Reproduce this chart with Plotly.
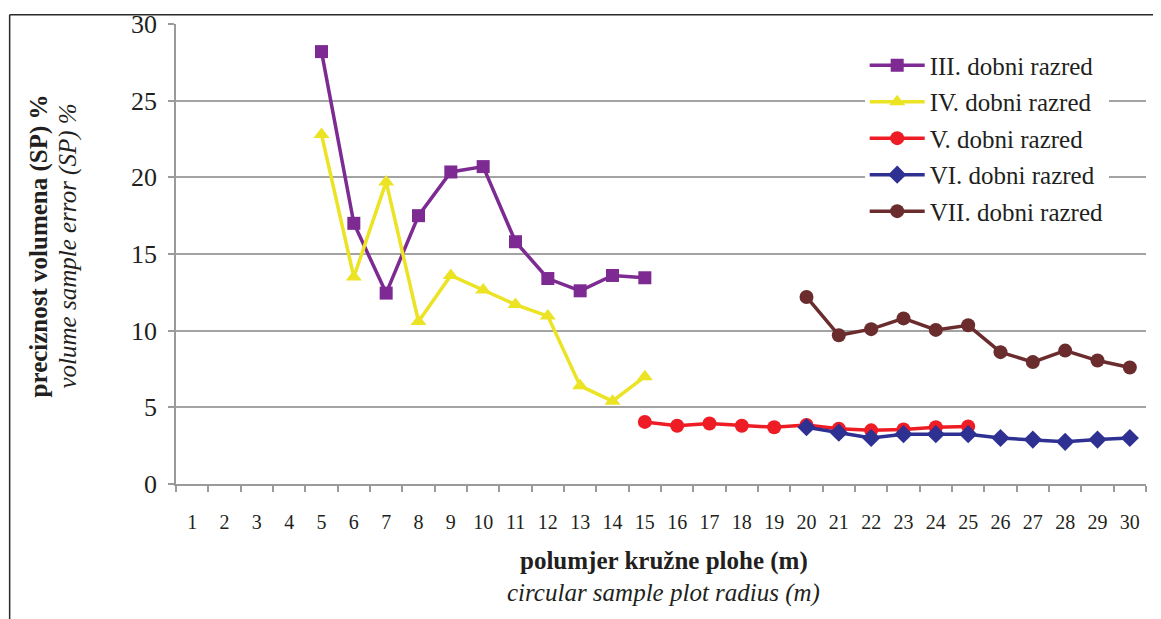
import plotly.graph_objects as go

radius = list(range(1, 31))

x_iii = [5, 6, 7, 8, 9, 10, 11, 12, 13, 14, 15]
y_iii = [28.2, 17.0, 12.45, 17.5, 20.35, 20.7, 15.8, 13.4, 12.6, 13.6, 13.45]

x_iv = [5, 6, 7, 8, 9, 10, 11, 12, 13, 14, 15]
y_iv = [22.8, 13.5, 19.7, 10.6, 13.6, 12.65, 11.7, 10.95, 6.4, 5.4, 7.0]

x_v = [15, 16, 17, 18, 19, 20, 21, 22, 23, 24, 25]
y_v = [4.05, 3.8, 3.95, 3.8, 3.7, 3.85, 3.6, 3.5, 3.55, 3.7, 3.75]

x_vi = [20, 21, 22, 23, 24, 25, 26, 27, 28, 29, 30]
y_vi = [3.7, 3.35, 3.0, 3.25, 3.25, 3.25, 3.0, 2.9, 2.75, 2.9, 3.0]

x_vii = [20, 21, 22, 23, 24, 25, 26, 27, 28, 29, 30]
y_vii = [12.2, 9.7, 10.1, 10.8, 10.05, 10.35, 8.6, 7.95, 8.7, 8.05, 7.6]

names = ["III. dobni razred", "IV. dobni razred", "V. dobni razred",
         "VI. dobni razred", "VII. dobni razred"]
colors = ["#7d2a93", "#ebe324", "#ee1c24", "#2e3192", "#6a2c2c"]
symbols = ["square", "triangle-up", "circle", "diamond", "circle"]
sizes = [13, 14, 14, 14, 14]

serif = "Liberation Serif"
ink = "#231f20"

fig = go.Figure()
series = [(x_iii, y_iii), (x_iv, y_iv), (x_v, y_v), (x_vi, y_vi), (x_vii, y_vii)]
for i, (xs, ys) in enumerate(series):
    fig.add_trace(go.Scatter(
        x=xs, y=ys, mode="lines+markers", name=names[i],
        legendgroup=f"g{i}",
        line=dict(color=colors[i], width=3.5),
        marker=dict(symbol=symbols[i], size=sizes[i], color=colors[i]),
    ))

fig.update_layout(
    width=1153, height=611,
    margin=dict(l=168, r=15, t=16, b=135, autoexpand=False),
    paper_bgcolor="white", plot_bgcolor="white",
    font=dict(family=serif, color=ink),
    showlegend=True,
    legend=dict(
        x=0.71, y=0.96, xanchor="left", yanchor="top",
        bgcolor="white", borderwidth=0,
        font=dict(family=serif, size=25, color=ink),
        traceorder="grouped", tracegroupgap=1, itemwidth=55,
    ),
    xaxis=dict(
        range=[0.5, 30.5], tickmode="array", tickvals=radius,
        ticktext=[str(r) for r in radius], automargin=False,
        ticks="", showgrid=False, zeroline=False,
        showline=True, linecolor="#9a9a9a", linewidth=1.5,
        tickfont=dict(family=serif, size=20, color=ink),
        ticklabelstandoff=19,
        minor=dict(tickmode="linear", tick0=0.5, dtick=1, ticks="outside",
                   ticklen=6, tickcolor="#9a9a9a", tickwidth=1.5, showgrid=False),
    ),
    yaxis=dict(
        range=[0, 30], tickmode="linear", tick0=0, dtick=5, automargin=False,
        ticks="outside", ticklen=6, tickcolor="#9a9a9a", tickwidth=1.5,
        showgrid=True, gridcolor="#a3a3a3", gridwidth=1.5,
        zeroline=False, showline=True, linecolor="#9a9a9a", linewidth=1.5,
        tickfont=dict(family=serif, size=26, color=ink),
        ticklabelstandoff=6,
    ),
    annotations=[
        dict(text="<b>preciznost volumena (SP) %</b>", xref="paper", yref="paper",
             x=-0.141, y=0.517, textangle=-90, showarrow=False,
             xanchor="center", yanchor="middle",
             font=dict(family=serif, size=25, color=ink)),
        dict(text="<i>volume sample error (SP) %</i>", xref="paper", yref="paper",
             x=-0.111, y=0.517, textangle=-90, showarrow=False,
             xanchor="center", yanchor="middle",
             font=dict(family=serif, size=25, color=ink)),
        dict(text="<b>polumjer kružne plohe (m)</b>", xref="paper", yref="paper",
             x=0.503, y=-0.168, showarrow=False,
             xanchor="center", yanchor="middle",
             font=dict(family=serif, size=25, color=ink)),
        dict(text="<i>circular sample plot radius (m)</i>", xref="paper", yref="paper",
             x=0.503, y=-0.237, showarrow=False,
             xanchor="center", yanchor="middle",
             font=dict(family=serif, size=25, color=ink)),
    ],
    shapes=[
        dict(type="line", xref="paper", yref="paper", x0=-0.1715, x1=-0.1715,
             y0=1.02, y1=-0.30, line=dict(color="#2a2a2a", width=1.5)),
        dict(type="line", xref="paper", yref="paper", x0=-0.1715, x1=1.012,
             y0=1.02, y1=1.02, line=dict(color="#2a2a2a", width=1.5)),
    ],
)

fig.write_html("out.html")
